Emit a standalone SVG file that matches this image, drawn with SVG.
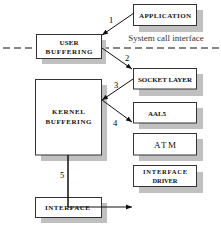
<svg xmlns="http://www.w3.org/2000/svg" width="221" height="228" viewBox="0 0 221 228">
<style>
.shadow{fill:#c0c0c0;stroke:none}
.box{fill:#fff;stroke:#333;stroke-width:1}
.t{font-family:"Liberation Serif",serif;font-weight:bold;font-size:7px;fill:#111;text-anchor:middle}
.n{font-family:"Liberation Serif",serif;font-size:8.5px;fill:#000;text-anchor:middle}
.c{stroke:#111;stroke-width:1;fill:none}
</style>
<defs>
<marker id="ah" viewBox="0 0 10 10" refX="10" refY="5" markerWidth="6" markerHeight="6" orient="auto" markerUnits="userSpaceOnUse">
<path d="M0,1 L10,5 L0,9 z" fill="#111"/>
</marker>
</defs>
<rect x="0" y="0" width="221" height="228" fill="#fff"/>
<line x1="3" y1="48" x2="221" y2="48" stroke="#111" stroke-width="1.2" stroke-dasharray="7 4"/>
<text x="166" y="41" font-family="'Liberation Serif',serif" font-size="9" fill="#333" text-anchor="middle">System call interface</text>
<g id="application">
<rect class="shadow" x="139" y="10" width="64" height="22"/>
<rect class="box" x="133.5" y="4.5" width="63" height="21"/>
<text class="t" x="165" y="17.5" textLength="52" lengthAdjust="spacing">APPLICATION</text>
</g>
<g id="user-buffering">
<rect class="shadow" x="42" y="40" width="64" height="24"/>
<rect class="box" x="36.5" y="34.5" width="65" height="24"/>
<text class="t" x="69" y="44.5" textLength="19" lengthAdjust="spacing">USER</text>
<text class="t" x="69" y="54" textLength="47" lengthAdjust="spacing">BUFFERING</text>
</g>
<g id="socket-layer">
<rect class="shadow" x="139" y="74" width="64" height="22"/>
<rect class="box" x="133.5" y="68.5" width="63" height="20.5"/>
<text class="t" x="165" y="81.5" textLength="54" lengthAdjust="spacing">SOCKET LAYER</text>
</g>
<g id="kernel-buffering">
<rect class="shadow" x="41" y="85" width="66" height="76"/>
<rect class="box" x="35.5" y="79.5" width="66" height="75.5"/>
<text class="t" x="68.5" y="114" textLength="33" lengthAdjust="spacing">KERNEL</text>
<text class="t" x="68.5" y="124" textLength="46" lengthAdjust="spacing">BUFFERING</text>
</g>
<g id="aal5">
<rect class="shadow" x="139" y="108" width="64" height="21"/>
<rect class="box" x="133.5" y="102.5" width="63" height="20.5"/>
<text class="t" x="148" y="115.5" textLength="18" lengthAdjust="spacing" style="text-anchor:start">AAL5</text>
</g>
<g id="atm">
<rect class="shadow" x="139" y="139" width="64" height="22"/>
<rect class="box" x="133.5" y="133.5" width="63" height="21.5"/>
<text class="t" x="165" y="147.5" style="font-size:9px;font-weight:normal" textLength="22" lengthAdjust="spacing">ATM</text>
</g>
<g id="interface-driver">
<rect class="shadow" x="139" y="172" width="64" height="21"/>
<rect class="box" x="133.5" y="165.5" width="63" height="21"/>
<text class="t" x="165" y="174" style="font-size:6.5px" textLength="44" lengthAdjust="spacing">INTERFACE</text>
<text class="t" x="165" y="182.5" style="font-size:6.5px" textLength="25" lengthAdjust="spacing">DRIVER</text>
</g>
<g id="interface">
<rect class="shadow" x="41" y="203" width="66" height="20"/>
<rect class="box" x="35.5" y="197.5" width="66" height="20"/>
<text class="t" x="67.5" y="210" textLength="45" lengthAdjust="spacing">INTERFACE</text>
</g>
<g id="connectors">
<line class="c" x1="134" y1="13" x2="102" y2="35" marker-end="url(#ah)"/>
<line class="c" x1="102" y1="48" x2="132" y2="69" marker-end="url(#ah)"/>
<line class="c" x1="133" y1="79" x2="102" y2="100" marker-end="url(#ah)"/>
<line class="c" x1="102" y1="100" x2="132" y2="122" marker-end="url(#ah)"/>
<polyline points="68,155 68,207" fill="none" stroke="#111" stroke-width="1.5"/>
<line x1="68" y1="207" x2="132" y2="207" stroke="#111" stroke-width="1.2" marker-end="url(#ah)"/>
<text class="n" x="111" y="23">1</text>
<text class="n" x="127" y="61">2</text>
<text class="n" x="116" y="88">3</text>
<text class="n" x="115" y="126">4</text>
<text class="n" x="62" y="178">5</text>
</g>
</svg>
